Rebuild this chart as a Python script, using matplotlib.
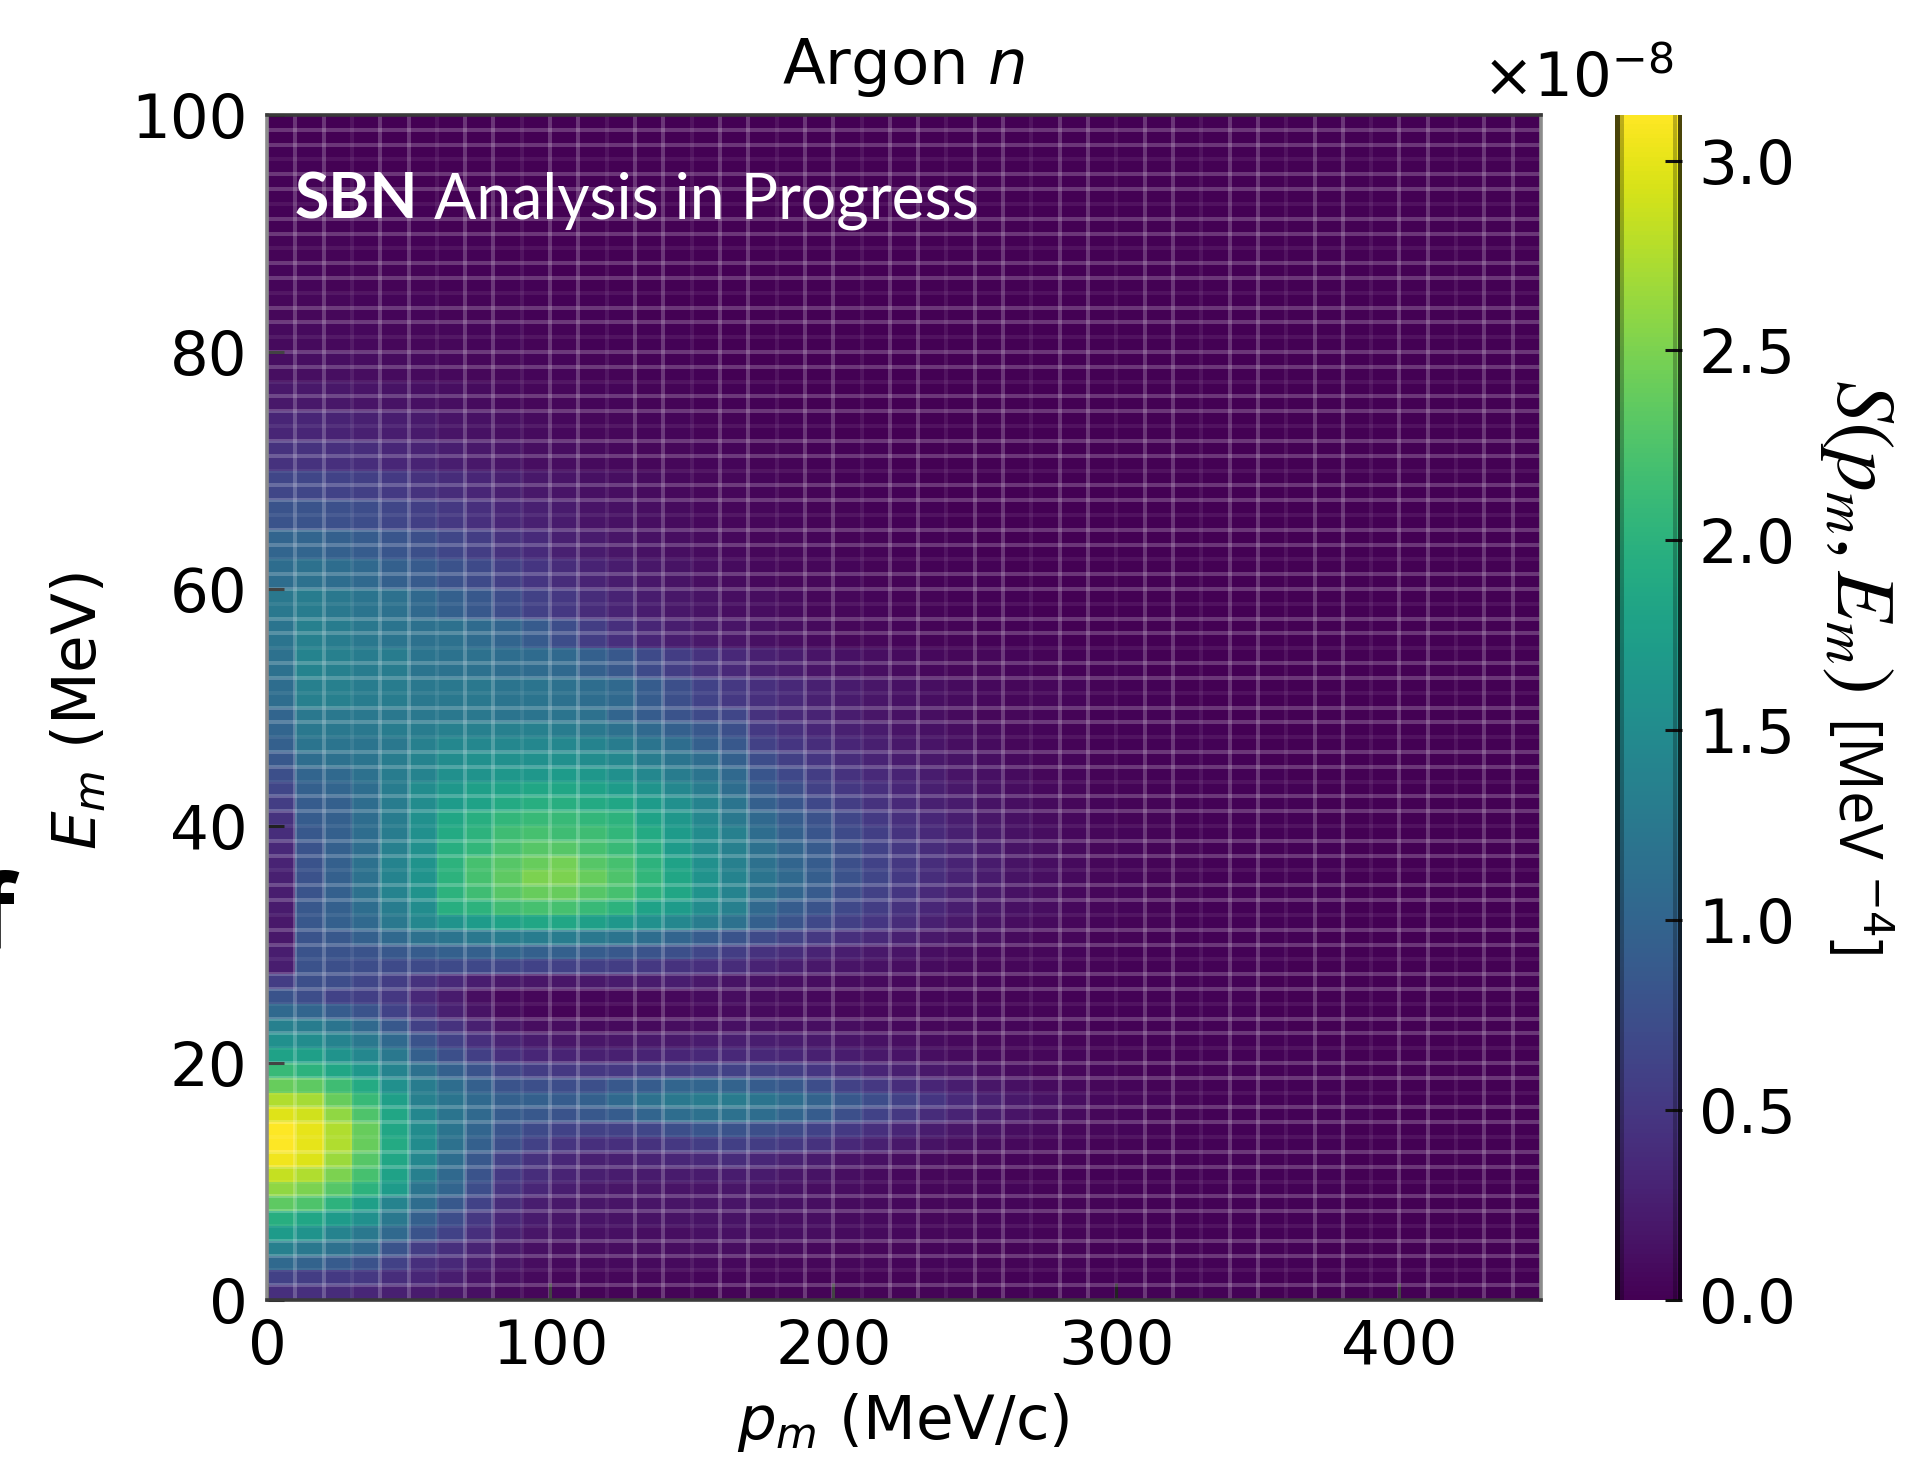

import numpy as np
import matplotlib
matplotlib.use("Agg")
import matplotlib.pyplot as plt
from matplotlib.colors import Normalize

W, H = 1905, 1469
DPI = 100

# ── Data ──────────────────────────────────────────────────────────────────────

# Rows are 1.25 MeV up to 50 MeV, where the picture has structure, 2.5 MeV above
P_EDGES = np.arange(0, 451, 10)
E_EDGES = np.concatenate([np.arange(0, 50, 1.25), np.arange(50, 100.1, 2.5)])
GRID_P_EDGES = np.arange(10, 450, 10)
GRID_E_EDGES = np.arange(1.25, 100, 1.25)

# S in units of 1e-10 MeV^-4, bottom row first, p = 5 ... 445 MeV/c
S_ROWS = [
    [42,42,38,33,28,22,18,13,8,5,4,3,3,3,3,3,3, 3,3,3,3,3,3,3,3,2,2,2,2,2,2,2,2,2,2,1,1,1,1,1,1,1,1,1,1],
    [60,55,52,50,40,33,25,17,12,8,6,5,5,5,5,4,4, 4,4,3,3,3,3,3,3,3,2,2,2,2,2,2,2,2,2,1,1,1,1,1,1,1,1,1,1],
    [105,98,88,78,60,42,35,25,16,10,8,8,8,8,8,8,7, 6,6,5,5,5,4,4,4,3,3,3,3,2,2,2,2,2,2,2,2,1,1,1,1,1,1,1,1],
    [135,125,115,105,80,55,42,30,20,13,10,10,10,10,10,10,10, 9,8,7,6,5,5,4,4,3,3,3,3,2,2,2,2,2,2,2,2,1,1,1,1,1,1,1,1],
    [170,160,140,125,105,80,62,42,27,18,15,13,13,12,12,13,13, 12,11,10,9,8,7,6,5,4,4,3,3,3,2,2,2,2,2,2,2,2,1,1,1,1,1,1,1],
    [195,185,170,155,125,95,72,50,33,22,18,16,15,15,15,15,15, 13,12,11,9,8,7,6,5,4,4,3,3,3,2,2,2,2,2,2,2,2,1,1,1,1,1,1,1],
    [235,225,200,175,140,110,85,62,38,25,20,18,16,16,16,17,17, 15,13,11,9,8,7,6,5,4,4,3,3,3,2,2,2,2,2,2,2,2,1,1,1,1,1,1,1],
    [260,250,230,200,170,120,100,72,47,33,25,20,18,18,17,17,18, 16,14,12,10,8,7,6,5,4,4,3,3,3,2,2,2,2,2,2,2,2,1,1,1,1,1,1,1],
    [285,275,250,220,180,135,105,80,52,40,30,26,24,23,22,23,24, 22,18,15,12,9,7,6,5,4,3,3,2,2,2,2,2,2,2,2,2,2,1,1,1,1,1,1,1],
    [305,295,265,230,185,145,110,85,60,45,33,28,28,30,33,35,38, 33,28,22,17,13,10,8,6,5,4,3,3,2,2,2,2,2,2,2,2,2,1,1,1,1,1,1,1],
    [312,300,275,240,190,150,115,95,75,60,47,42,42,45,50,55,58, 55,50,45,35,27,20,15,12,9,7,5,4,3,3,2,2,2,2,2,2,2,1,1,1,1,1,1,1],
    [312,300,275,240,185,150,120,100,82,70,62,60,60,65,75,82,80, 75,70,62,52,42,32,24,18,14,10,8,6,5,4,3,2,2,2,2,2,2,1,1,1,1,1,1,1],
    [297,290,260,225,185,145,120,105,90,85,80,85,90,100,110,115,115, 110,100,90,75,62,50,38,30,22,16,12,8,6,4,3,3,2,2,2,2,2,2,1,1,1,1,1,1],
    [275,270,240,210,175,135,120,105,95,95,90,95,105,115,125,128,128, 120,110,98,85,72,60,48,36,27,20,14,10,7,5,4,3,2,2,2,2,2,2,1,1,1,1,1,1],
    [240,235,215,190,155,130,110,95,80,75,72,75,85,90,100,100,98, 90,85,72,60,50,40,32,25,18,13,9,7,5,4,3,3,2,2,2,2,2,1,1,1,1,1,1,1],
    [210,200,185,165,140,115,95,80,65,55,50,50,50,55,55,60,60, 60,55,48,40,32,26,20,16,12,9,6,5,4,3,2,2,2,2,2,2,2,1,1,1,1,1,1,1],
    [180,175,160,145,125,95,75,58,42,33,30,28,28,30,32,35,35, 35,32,28,24,20,16,12,9,7,6,5,4,3,3,2,2,2,2,2,2,2,1,1,1,1,1,1,1],
    [155,150,140,125,105,80,60,42,30,22,18,18,18,20,20,22,25, 25,22,20,17,14,11,9,7,6,5,4,3,3,2,2,2,2,2,2,2,1,1,1,1,1,1,1,1],
    [135,130,120,105,85,60,45,28,16,10,10,8,8,8,10,12,13, 13,12,11,10,8,7,6,5,4,4,3,3,2,2,2,2,2,2,2,1,1,1,1,1,1,1,1,1],
    [105,100,90,80,62,45,27,15,8,4,3,3,3,3,5,7,8, 8,7,7,6,5,5,4,4,4,3,3,3,2,2,2,2,2,2,1,1,1,1,1,1,1,1,1,1],
    [80,72,62,58,50,35,22,12,7,5,4,4,5,5,7,9,10, 9,8,7,6,6,5,4,4,3,3,3,2,2,2,2,2,2,2,1,1,1,1,1,1,1,1,1,1],
    [55,75,72,65,55,45,35,25,20,18,18,20,22,22,25,20,15, 14,12,10,9,8,7,6,5,4,3,3,2,2,2,2,2,2,2,1,1,1,1,1,1,1,1,1,1],
    [25,78,75,72,70,70,70,68,65,62,60,58,55,50,45,42,38, 30,25,20,17,14,11,9,7,6,5,4,3,3,2,2,2,2,2,2,1,1,1,1,1,1,1,1,1],
    [25,80,80,80,85,90,95,95,100,95,95,90,85,80,75,65,55, 45,38,30,25,20,16,12,9,7,6,5,4,3,2,2,2,2,2,2,1,1,1,1,1,1,1,1,1],
    [20,80,85,95,105,115,120,125,130,130,130,125,120,110,100,90,80, 70,60,50,42,35,27,20,15,11,8,6,5,3,3,2,2,2,2,2,2,1,1,1,1,1,1,1,1],
    [20,85,95,105,125,145,160,170,180,185,185,175,165,155,145,130,115, 95,80,68,58,48,38,28,20,14,10,8,6,4,3,3,2,2,2,2,2,1,1,1,1,1,1,1,1],
    [22,85,95,110,130,150,195,200,215,220,220,210,200,180,170,150,135, 105,90,80,68,55,45,33,25,18,13,10,7,5,4,3,2,2,2,2,2,2,1,1,1,1,1,1,1],
    [25,80,95,115,140,160,200,215,230,240,240,230,220,200,185,160,140, 115,100,88,72,60,48,36,27,20,14,10,7,5,4,3,3,2,2,2,2,2,1,1,1,1,1,1,1],
    [28,78,95,115,140,160,200,220,235,250,250,240,225,205,185,160,140, 120,105,92,78,65,52,40,30,22,15,11,8,5,4,3,3,2,2,2,2,2,1,1,1,1,1,1,1],
    [30,80,95,115,140,160,200,220,230,240,245,230,220,200,180,155,135, 115,100,90,75,62,50,40,30,22,15,11,8,5,4,3,3,2,2,2,2,2,1,1,1,1,1,1,1],
    [35,80,95,110,135,155,195,205,220,230,230,220,210,195,170,150,135, 115,100,88,75,62,50,38,30,22,15,11,8,5,4,3,3,2,2,2,2,2,1,1,1,1,1,1,1],
    [40,85,95,110,130,155,190,200,215,220,215,215,205,190,170,150,135, 110,95,82,70,58,46,36,28,20,14,10,7,5,4,3,2,2,2,2,2,2,1,1,1,1,1,1,1],
    [45,90,95,110,130,155,185,195,205,210,210,205,200,180,165,145,125, 105,90,78,65,52,42,33,25,18,13,9,7,4,3,3,2,2,2,2,2,1,1,1,1,1,1,1,1],
    [55,90,95,110,130,150,170,180,190,195,195,190,185,170,155,140,120, 95,82,68,55,45,36,28,22,15,12,8,6,4,3,3,2,2,2,2,2,1,1,1,1,1,1,1,1],
    [65,95,100,110,130,150,165,175,180,185,185,180,170,160,145,130,110, 90,75,60,50,42,33,26,20,14,10,7,5,3,3,2,2,2,2,2,2,1,1,1,1,1,1,1,1],
    [75,100,105,115,130,140,155,160,165,165,170,165,155,145,130,120,105, 82,68,55,45,36,30,24,17,13,9,6,4,3,3,2,2,2,2,2,1,1,1,1,1,1,1,1,1],
    [85,110,115,120,130,140,150,155,155,155,155,150,145,130,120,110,95, 72,58,48,38,30,24,20,15,11,8,5,4,3,2,2,2,2,2,1,1,1,1,1,1,1,1,1,1],
    [95,120,120,120,125,135,145,145,145,145,145,140,130,120,110,95,85, 60,48,40,32,26,20,16,12,9,6,4,3,2,2,2,2,2,1,1,1,1,1,1,1,1,1,1,1],
    [100,125,125,125,130,130,135,135,135,135,130,125,115,105,95,85,75, 52,42,34,28,22,17,14,10,8,6,4,3,2,2,2,2,2,1,1,1,1,1,1,1,1,1,1,1],
    [100,125,125,125,125,125,125,125,120,120,120,115,100,90,80,70,65, 45,35,30,24,18,14,11,8,6,5,4,3,2,2,2,2,1,1,1,1,1,1,1,1,1,1,1,1],
    [110,135,135,130,130,125,125,125,120,120,115,110,105,90,75,62,50, 42,35,28,22,18,14,11,9,7,6,5,4,3,2,2,1,1,1,1,1,1,1,1,1,1,1,1,1],
    [115,140,135,130,130,120,118,115,110,108,105,95,85,70,55,45,35, 28,22,17,14,11,9,7,6,5,4,3,2,2,2,1,1,1,1,1,1,1,1,1,1,1,1,1,1],
    [120,135,130,125,120,115,115,108,100,88,72,55,42,32,25,20,16, 13,10,8,6,5,4,3,3,2,2,2,1,1,1,1,1,1,1,1,1,1,1,1,1,1,1,1,1],
    [125,130,125,120,115,105,95,85,72,60,50,38,30,24,19,15,12, 10,8,6,5,4,3,3,2,2,2,1,1,1,1,1,1,1,1,1,1,1,1,1,1,1,1,1,1],
    [110,115,110,105,95,88,78,70,58,48,38,30,24,19,15,12,9, 7,6,5,4,3,3,2,2,2,1,1,1,1,1,1,1,1,1,1,1,1,1,1,1,1,1,1,1],
    [100,100,95,90,82,75,65,55,45,37,28,22,18,14,11,9,7, 6,5,4,3,3,2,2,2,1,1,1,1,1,1,1,1,1,1,1,1,1,1,1,1,1,1,1,1],
    [80,80,76,72,65,58,50,42,34,27,22,17,14,11,9,7,6, 5,4,3,3,2,2,2,1,1,1,1,1,1,1,1,1,1,1,1,1,1,1,1,1,1,1,1,1],
    [65,65,62,58,52,45,38,32,26,20,16,13,11,9,7,6,5, 4,3,3,2,2,2,1,1,1,1,1,1,1,1,1,1,1,1,1,1,1,1,1,1,1,1,1,1],
    [45,45,42,40,34,30,25,20,16,12,10,8,7,6,5,4,4, 3,3,2,2,2,1,1,1,1,1,1,1,1,1,1,1,1,1,1,1,1,1,1,1,1,1,1,1],
    [32,32,30,28,25,21,17,14,11,9,7,6,5,4,4,3,3, 2,2,2,1,1,1,1,1,1,1,1,1,1,1,1,1,1,1,1,1,1,1,1,1,1,1,1,1],
    [20,20,19,17,15,13,11,9,7,6,5,4,4,3,3,2,2, 2,1,1,1,1,1,1,1,1,1,1,1,1,1,1,1,1,1,1,1,1,1,1,1,1,1,1,1],
    [12,12,11,10,9,8,7,6,5,4,4,3,3,2,2,2,1, 1,1,1,1,1,1,1,1,1,1,1,1,1,1,1,1,1,1,1,1,1,1,1,1,1,1,1,1],
    [8,8,7,7,6,5,5,4,4,3,3,2,2,2,2,1,1, 1,1,1,1,1,1,1,1,1,1,1,1,1,1,1,1,1,1,1,1,1,1,1,1,1,1,1,1],
    [5,5,5,4,4,4,3,3,3,2,2,2,2,1,1,1,1, 1,1,1,1,1,1,1,1,1,1,1,1,1,1,1,1,1,1,1,1,1,1,1,1,1,1,1,1],
    [4,4,3,3,3,3,2,2,2,2,1,1,1,1,1,1,1, 1,1,1,1,1,1,1,1,1,1,1,1,1,1,1,1,1,1,1,1,1,1,1,1,1,1,1,1],
    [3,3,3,2,2,2,2,2,1,1,1,1,1,1,1,1,1, 1,1,1,1,1,1,1,1,1,1,1,1,1,1,1,1,1,1,1,1,1,1,1,1,1,1,1,1],
    [2,2,2,2,2,2,1,1,1,1,1,1,1,1,1,1,1, 1,1,1,1,1,1,1,1,1,1,1,1,1,1,1,1,1,1,1,1,1,1,1,1,1,1,1,1],
    [2,2,2,2,1,1,1,1,1,1,1,1,1,1,1,1,1, 1,1,1,1,1,1,1,1,1,1,1,1,1,1,1,1,1,1,1,1,1,1,1,1,1,1,1,1],
    [2,2,1,1,1,1,1,1,1,1,1,1,1,1,1,1,1, 1,1,1,1,1,1,1,1,1,1,1,1,1,1,1,1,1,1,1,1,1,1,1,1,1,1,1,1],
    [1,1,1,1,1,1,1,1,1,1,1,1,1,1,1,1,1, 1,1,1,1,1,1,1,1,1,1,1,1,1,1,1,1,1,1,1,1,1,1,1,1,1,1,1,1],
]
S_MAX = 3.12e-8

P_TICKS = [0, 100, 200, 300, 400]
E_TICKS = [0, 20, 40, 60, 80, 100]
CBAR_TICKS = [0, 0.5e-8, 1e-8, 1.5e-8, 2e-8, 2.5e-8, 3e-8]

# ── Figure ────────────────────────────────────────────────────────────────────

plt.rcParams["mathtext.fontset"] = "dejavusans"
FS = 44


def box(x0, y0, x1, y1):
    # pixel box (top-left origin) to figure fractions
    return [x0 / W, 1 - y1 / H, (x1 - x0) / W, (y1 - y0) / H]


fig = plt.figure(figsize=(W / DPI, H / DPI), dpi=DPI)
ax = fig.add_axes(box(267, 115, 1541, 1300))
cax = fig.add_axes(box(1615, 115, 1682, 1300))

S = np.array(S_ROWS) * 1e-10
mesh = ax.pcolormesh(P_EDGES, E_EDGES, S, cmap="viridis",
                     norm=Normalize(0, S_MAX), zorder=1)

# Pale grid left over from the mesh edges: every third line is much fainter
for i, p in enumerate(GRID_P_EDGES):
    ax.axvline(p, color="white", lw=2.9, alpha=0.08 if i % 3 == 2 else 0.21, zorder=2)
for i, e in enumerate(GRID_E_EDGES):
    ax.axhline(e, color="white", lw=2.9, alpha=0.07 if i % 3 == 1 else 0.21, zorder=2)

ax.set_xlim(0, 450)
ax.set_ylim(0, 100)
ax.set_xticks(P_TICKS)
ax.set_yticks(E_TICKS)
ax.tick_params(direction="in", length=12, width=2.2, labelsize=FS, color="#111111")
ax.tick_params(axis="x", pad=13)
ax.tick_params(axis="y", pad=14)
for name, spine in ax.spines.items():
    spine.set_linewidth(2.6)
    spine.set_color("#8c8c8c" if name in ("left", "right") else "#3a3a3a")

ax.set_title("Argon $n$", fontsize=45, pad=0, y=1.026)
fig.text(903 / W, 1 - 1422 / H, "$p_m$ (MeV/c)", fontsize=FS, ha="center", va="center")
fig.text(79 / W, 1 - 711 / H, "$E_m$ (MeV)", fontsize=FS, ha="center", va="center",
         rotation=90)

# SBN stamp
sbn = ax.text(0.0218, 0.9125, "SBN", transform=ax.transAxes, color="white",
              fontsize=45, fontweight="bold", family="Lato", va="baseline", zorder=5)
ax.annotate(" Analysis in Progress", xy=(1, 0), xycoords=sbn, color="white",
            fontsize=45, family="Lato", va="bottom", zorder=5, annotation_clip=False)

# Colour bar
cb = fig.colorbar(mesh, cax=cax, ticks=CBAR_TICKS)
cb.ax.tick_params(direction="in", length=12, width=2.2, labelsize=FS, pad=12, color="#111111")
cb.ax.yaxis.get_offset_text().set_visible(False)
cb.outline.set_visible(False)
for x, a, w in [(0.035, 0.7, 5), (0.105, 0.25, 4), (0.965, 0.7, 5), (0.895, 0.25, 4)]:
    cax.axvline(x, color="black", alpha=a, lw=w * 72 / DPI, zorder=5)
cax.axhline(1, color="black", alpha=0.6, lw=3)

fig.text(1674 / W, 1 - 97 / H, r"$\times 10^{-8}$", fontsize=FS, ha="right", va="baseline")

fig.text(1858 / W, 1 - 535 / H, r"$S(p_m, E_m)$", rotation=-90, fontsize=60,
         ha="center", va="center", math_fontfamily="stix")
fig.text(1858 / W, 1 - 835 / H, r"[MeV $^{\mathrm{-4}}$]", rotation=-90,
         fontsize=43, ha="center", va="center", family="Open Sans")

# Cropped letter from the slide behind the plot
fig.text(15 / W, 1 - 948 / H, "f", fontsize=74, fontweight="bold", family="Open Sans",
         ha="right", va="baseline")

fig.savefig("out.png", dpi=DPI)
